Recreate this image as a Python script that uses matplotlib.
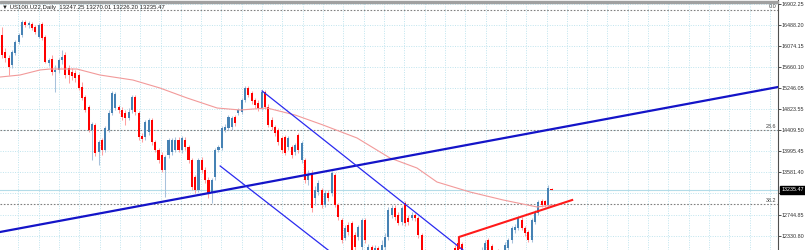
"""US100 daily candlestick chart with trend lines and fib levels"""

import matplotlib

matplotlib.use("Agg")
from matplotlib import pyplot as plt
from matplotlib.patches import Rectangle

title = "\u25bc US100.U22,Daily  13247.25 13270.01 13226.20 13235.47"

opens = [
    16291, 15956, 15837, 15699, 15936, 16153, 16291, 16547, 16488, 16508,
    16449, 16251, 16508, 16251, 15739, 15818, 15561, 15601, 15798, 15896,
    15640, 15561, 15541, 15502, 15265, 15068, 14871, 14418, 14516, 13984,
    14220, 14023, 14418, 14753, 14851, 14871, 14812, 14753, 14654, 14812,
    15068, 14753, 14299, 14279, 14378, 14615, 14181, 14023, 13925, 13629,
    13925, 13984, 14023, 14220, 14023, 14220, 14082, 13826, 13490, 13234,
    13826, 13629, 13431, 13175, 13490, 14023, 14063, 14418, 14457, 14477,
    14674, 14753, 14772, 15009, 15246, 15147, 15009, 14950, 14851, 15167,
    14871, 14615, 14477, 14418, 14260, 14279, 14082, 14082, 13984, 14319,
    13826, 13826, 13431, 13569, 13077, 13195, 13234, 12938, 13175, 13175,
    13530, 12938, 12643, 12288, 12544, 12584, 12347, 12307, 12110, 12643,
    12051, 12110, 11893, 12091, 11953, 12110, 12307, 12741, 12879, 12741,
    12603, 12978, 12682, 12682, 12741, 12682, 12347, 12012, 11814, 11657,
    11814, 11617, 11755, 11558, 11736, 11893, 12091, 12189, 12169, 11933,
    11972, 11775, 11913, 11814, 11933, 12012, 12248, 12130, 11893, 12012,
    11814, 11953, 12091, 12248, 12445, 12485, 12643, 12485, 12406, 12248,
    12603, 12781, 13017, 13017, 12938, 13247.25,
]
highs = [
    16449, 16034, 15896, 15995, 16192, 16330, 16587, 16587, 16567, 16547,
    16488, 16527, 16547, 16291, 15837, 15896, 15699, 15837, 15995, 15956,
    15699, 15640, 15601, 15541, 15364, 15108, 14910, 14575, 14555, 14220,
    14260, 14496, 14812, 15187, 15167, 14910, 14871, 14812, 14851, 15108,
    15108, 14792, 14358, 14615, 14654, 14654, 14220, 14063, 13984, 13925,
    14260, 14260, 14279, 14279, 14299, 14279, 14122, 13865, 13530, 13865,
    13885, 13688, 13490, 13471, 14063, 14122, 14496, 14536, 14713, 14694,
    14713, 14851, 15048, 15285, 15285, 15187, 15048, 15009, 15206, 15206,
    14930, 14674, 14516, 14457, 14299, 14319, 14299, 14122, 14161, 14358,
    14201, 13865, 13629, 13629, 13313, 13431, 13274, 13234, 13234, 13609,
    13569, 12978, 12682, 12544, 12603, 12623, 12406, 12544, 12682, 12682,
    12169, 12150, 12150, 12130, 12248, 12386, 12899, 12938, 12938, 12800,
    12919, 13017, 12741, 12800, 12781, 12722, 12386, 12071, 11893, 11893,
    11893, 11854, 11814, 11814, 11972, 11953, 12150, 12248, 12209, 12051,
    12012, 11972, 11972, 12012, 12110, 12248, 12288, 12169, 12051, 12071,
    12051, 12209, 12288, 12525, 12564, 12722, 12702, 12525, 12445, 12682,
    12840, 13037, 13057, 13037, 13333, 13270.01,
]
lows = [
    15837, 15758, 15502, 15640, 15896, 16113, 16251, 16449, 16429, 16389,
    16311, 16232, 16192, 15739, 15680, 15502, 15167, 15541, 15719, 15443,
    15344, 15403, 15364, 15206, 15009, 14772, 14378, 13826, 13905, 13727,
    13925, 13984, 14378, 14713, 14812, 14753, 14615, 14516, 14615, 14753,
    14713, 14220, 14181, 14220, 14319, 14122, 13984, 13767, 13589, 13096,
    13865, 13925, 13984, 13984, 13964, 14023, 13767, 13234, 13175, 13195,
    13569, 13372, 13077, 12978, 13431, 13984, 14023, 14378, 14418, 14418,
    14496, 14713, 14733, 14970, 15068, 14930, 14851, 14792, 14812, 14832,
    14477, 14418, 14299, 14122, 13964, 13925, 14023, 13865, 13925, 13964,
    13767, 13372, 13333, 12800, 12938, 13136, 12879, 12899, 13017, 13116,
    12899, 12643, 12189, 12248, 12347, 11953, 12012, 12248, 12051, 12189,
    11953, 11814, 11814, 11854, 11893, 12051, 12248, 12682, 12643, 12544,
    12544, 12525, 12544, 12643, 12623, 12288, 11933, 11755, 11558, 11558,
    11499, 11538, 11459, 11459, 11657, 11657, 11736, 11854, 11933, 11814,
    11696, 11657, 11736, 11736, 11874, 11953, 11972, 11854, 11814, 11775,
    11736, 11893, 12051, 12189, 12386, 12445, 12445, 12327, 12209, 12209,
    12564, 12741, 12899, 12899, 12899, 13226.20,
]
closes = [
    15896, 15837, 15660, 15956, 16153, 16291, 16547, 16488, 16527, 16429,
    16350, 16488, 16232, 15758, 15798, 15561, 15601, 15798, 15857, 15502,
    15502, 15482, 15443, 15246, 15048, 14812, 14418, 14536, 13964, 14181,
    14023, 14457, 14753, 15147, 15127, 14812, 14674, 14654, 14772, 15068,
    14772, 14279, 14240, 14575, 14615, 14181, 14023, 13826, 13629, 13885,
    14220, 14220, 14220, 14023, 14260, 14082, 13826, 13293, 13234, 13826,
    13629, 13431, 13175, 13431, 14023, 14082, 14457, 14477, 14674, 14654,
    14555, 14812, 15009, 15246, 15108, 14989, 14910, 14851, 15167, 14871,
    14516, 14477, 14358, 14181, 14023, 13964, 14260, 13925, 14122, 14023,
    14161, 13431, 13530, 12879, 13234, 13372, 12938, 13175, 13077, 13569,
    12938, 12702, 12248, 12485, 12406, 12051, 12110, 12505, 12643, 12248,
    12110, 11893, 12091, 11953, 12150, 12307, 12840, 12879, 12702, 12584,
    12879, 12584, 12603, 12741, 12682, 12347, 12012, 11814, 11657, 11814,
    11617, 11755, 11558, 11736, 11893, 11736, 11814, 11933, 12012, 12012,
    11775, 11913, 11814, 11953, 12051, 12189, 12051, 11933, 12012, 11854,
    11972, 12150, 12248, 12485, 12505, 12682, 12485, 12386, 12248, 12643,
    12800, 12998, 12938, 12938, 13274, 13235.47,
]

# moving average read at a few bars
ma_bars = [-0.6, 5.4, 11.4, 14.4, 22.5, 29.4, 39.3, 47.4, 55.6, 64.6, 71.5,
           79.6, 88.0, 96.4, 106.6, 116.5, 124.6, 130.6, 140.5, 150.5, 160.7,
           165.4]
ma_vals = [15462, 15502, 15601, 15620, 15620, 15502, 15403, 15246, 15048,
           14851, 14812, 14851, 14713, 14516, 14260, 13865, 13668, 13392,
           13195, 13037, 12899, 12938]

# drawn objects: (bar, price) end points
trend_long = [(-0.6, 12406), (233.0, 15265)]
channel_a = [(78.1, 15187), (140.0, 11967)]
channel_b = [(65.5, 13708), (100.0, 11944)]
red_line = [(137.2, 12091), (137.2, 12307), (171.2, 13037)]

fib_levels = [16774, 14418, 12958]
fib_labels = ["0.0", "23.6", "38.2"]

bid = 13235.47
tick_vals = [16902.25, 16488.20, 16074.15, 15660.10, 15246.05, 14823.55,
             14409.50, 13995.45, 13581.40, 13167.35, 12744.85, 12330.80]

RED = "#ff0000"
BLUE = "#4682b4"
FONT = "Liberation Sans"
FS = 3.9


def main():
    fig = plt.figure(figsize=(8.05, 2.5), dpi=100)
    ax = fig.add_axes([0, 0, 778 / 805, 1])
    ax.set_xlim(-0.6, 233.0)
    ax.set_ylim(12051, 16981)

    # grid
    for v in tick_vals:
        ax.axhline(v, color="#bfe4ee", lw=0.7, ls=(0, (1, 1.5)), zorder=0)
    g = 4.9
    while g < 233:
        ax.axvline(g, color="#bfe4ee", lw=0.7, ls=(0, (1, 1.5)), zorder=0)
        g += 6.1

    # fib levels
    for lvl, lab in zip(fib_levels, fib_labels):
        ax.axhline(lvl, color="#808080", lw=0.8, ls=(0, (1.5, 1.5)), zorder=1)
        ax.text(232.5, lvl + 25, lab, ha="right", va="bottom", fontsize=FS,
                family=FONT, color="#404040")

    ax.axhline(bid, color="#b4dce8", lw=0.8, zorder=1)

    # candles
    for i, (o, h, l, c) in enumerate(zip(opens, highs, lows, closes)):
        col = BLUE if c >= o else RED
        wick = "#a8c2dc" if c >= o else "#ffa0a0"
        ax.vlines(i, l, h, color=wick, lw=0.75, zorder=2)
        lo, hi = min(o, c), max(o, c)
        ax.bar(i, max(hi - lo, 12), width=0.62, bottom=lo, color=col,
               linewidth=0, zorder=3)

    ax.plot(ma_bars, ma_vals, color="#f29a9a", lw=0.8, zorder=4)

    xs, ys = zip(*trend_long)
    ax.plot(xs, ys, color="#1414c8", lw=1.6, zorder=5)
    for line in (channel_a, channel_b):
        xs, ys = zip(*line)
        ax.plot(xs, ys, color="#2a2af0", lw=0.9, zorder=5)
    xs, ys = zip(*red_line)
    ax.plot(xs, ys, color="#ff1a1a", lw=1.5, zorder=5)

    # right price scale
    ax.yaxis.tick_right()
    ax.set_yticks(tick_vals)
    ax.set_yticklabels([f"{v:.2f}" for v in tick_vals])
    ax.tick_params(axis="y", length=2, width=0.6, pad=0.8, labelsize=FS,
                   colors="#303030")
    for lab in ax.get_yticklabels():
        lab.set_family(FONT)
    ax.set_xticks([])
    for side in ("top", "bottom", "left"):
        ax.spines[side].set_visible(False)
    ax.spines["right"].set_color("#505050")
    ax.spines["right"].set_linewidth(0.8)

    ax.text(234.0, bid, f"{bid:.2f}", ha="left", va="center", fontsize=FS,
            family=FONT, color="white", zorder=10, clip_on=False,
            bbox=dict(boxstyle="square,pad=0.2", fc="black", ec="black"))

    fig.add_artist(Rectangle((0, 1 - 3 / 250), 778 / 805, 2 / 250,
                             transform=fig.transFigure, color="#a0a0a0"))
    fig.text(2 / 805, 1 - 8 / 250, title, ha="left", va="center",
             fontsize=4.3, family=["Liberation Sans", "DejaVu Sans"],
             color="#202020")

    fig.savefig("out.png", dpi=100)


if __name__ == "__main__":
    main()
